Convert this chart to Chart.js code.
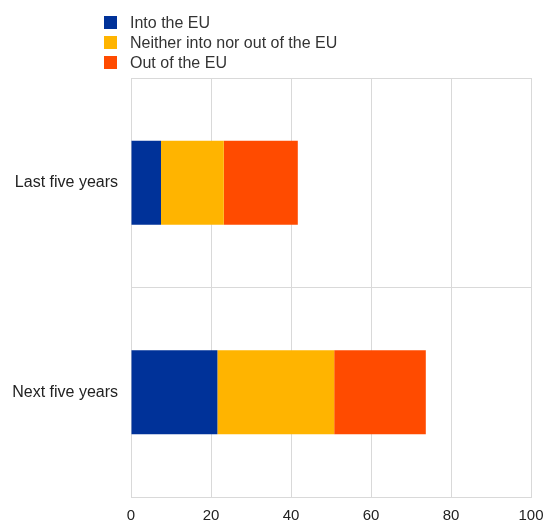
<!DOCTYPE html>
<html>
<head>
<meta charset="utf-8">
<script src="https://cdn.jsdelivr.net/npm/chart.js@4"></script>
<style>
  html, body { margin: 0; padding: 0; background: #fff; }
  #wrap { position: relative; width: 546px; height: 522px; }
  #legend { position: absolute; left: 104px; top: 13px; font: 16px "Liberation Sans", Arial, sans-serif; color: #333; }
  #legend div { height: 20px; line-height: 19px; white-space: nowrap; }
  #legend span { display: inline-block; width: 13px; height: 13px; margin-right: 13px; vertical-align: -1px; }
</style>
</head>
<body>
<div id="wrap">
  <canvas id="chart" width="546" height="522"></canvas>
  <div id="legend"></div>
</div>
<script>
const categories = ["Last five years", "Next five years"];
const seriesNames = ["Into the EU", "Neither into nor out of the EU", "Out of the EU"];
const intoEU = [7.5, 21.6];
const neither = [15.7, 29.2];
const outOfEU = [18.5, 22.9];
const xTicks = [0, 20, 40, 60, 80, 100];
const colors = ["#003299", "#FFB400", "#FF4B00"];

const values = [intoEU, neither, outOfEU];

const legend = document.getElementById("legend");
seriesNames.forEach((name, i) => {
  const row = document.createElement("div");
  const box = document.createElement("span");
  box.style.background = colors[i];
  row.appendChild(box);
  row.appendChild(document.createTextNode(name));
  legend.appendChild(row);
});

const fontFamily = "'Liberation Sans', Arial, sans-serif";

new Chart(document.getElementById("chart"), {
  type: "bar",
  data: {
    labels: categories,
    datasets: seriesNames.map((name, i) => ({
      label: name,
      data: values[i],
      backgroundColor: colors[i],
      borderWidth: 0,
      barPercentage: 0.4,
      categoryPercentage: 1,
    })),
  },
  options: {
    indexAxis: "y",
    responsive: false,
    animation: false,
    layout: { padding: { top: 78, right: 15, bottom: 0, left: 0 } },
    plugins: { legend: { display: false }, tooltip: { enabled: false } },
    scales: {
      x: {
        stacked: true,
        min: 0,
        max: 100,
        afterBuildTicks: (scale) => { scale.ticks = xTicks.map((v) => ({ value: v })); },
        afterFit: (scale) => {
          scale.height = 25;
          scale.paddingLeft = 0;
          scale.paddingRight = 0;
        },
        grid: { color: "#d9d9d9", drawTicks: false },
        border: { color: "#d9d9d9" },
        ticks: { color: "#222", font: { family: fontFamily, size: 15 }, padding: 10, maxRotation: 0 },
      },
      y: {
        stacked: true,
        afterFit: (scale) => { scale.width = 131; },
        grid: { color: "#d9d9d9", drawTicks: false },
        border: { color: "#d9d9d9" },
        ticks: { color: "#222", font: { family: fontFamily, size: 16 }, padding: 13 },
      },
    },
  },
});
</script>
</body>
</html>
